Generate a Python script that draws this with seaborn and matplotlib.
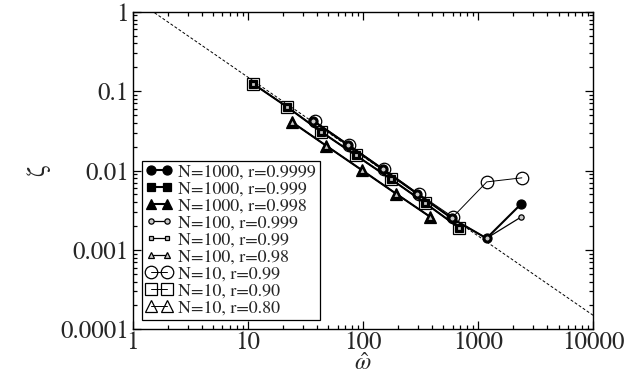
import numpy as np
import pandas as pd
import seaborn as sns
import matplotlib
matplotlib.use('Agg')
import matplotlib.pyplot as plt
from matplotlib.ticker import LogLocator, FuncFormatter, NullFormatter

# values
omega_sq = [11, 22, 43, 87, 175, 346, 684]
zeta_sq = [0.125, 0.063, 0.031, 0.0155, 0.0078, 0.0039, 0.0019]

omega_circ = [37, 74, 148, 296, 592, 1184, 2368]
zeta_n1000_r9999 = [0.042, 0.021, 0.0104, 0.0051, 0.0025, 0.0014, 0.0038]
zeta_n100_r999 = [0.042, 0.021, 0.0104, 0.0051, 0.0025, 0.0014, 0.0026]
omega_circ_n10 = [38, 76, 152, 304, 604, 1190, 2400]
zeta_n10_r99 = [0.042, 0.021, 0.0104, 0.0051, 0.0026, 0.0072, 0.0081]

omega_tri = [24, 48, 97, 194, 385]
zeta_tri = [0.041, 0.0205, 0.0102, 0.0051, 0.0026]

guide_omega = [1, 10000]
guide_zeta = [1.5, 0.00015]

sns.set_style('ticks')
plt.rcParams['font.family'] = ['STIXGeneral', 'DejaVu Serif']
plt.rcParams['mathtext.fontset'] = 'stix'
plt.rcParams['xtick.direction'] = 'in'
plt.rcParams['ytick.direction'] = 'in'

fig = plt.figure(figsize=(6.27, 3.82), dpi=100)
ax = fig.add_axes([0.212, 0.138, 0.734, 0.831])

ax.plot(guide_omega, guide_zeta, ls=(0, (3, 2)), color='black', lw=0.7, zorder=1)

# (label, x, y, marker, size, face, lw, zorder)
series = [
    ('N=1000, r=0.9999', omega_circ, zeta_n1000_r9999, 'o', 6.5, 'black', 1.5, 6),
    ('N=1000, r=0.999', omega_sq, zeta_sq, 's', 6.0, 'black', 1.5, 6),
    ('N=1000, r=0.998', omega_tri, zeta_tri, '^', 6.5, 'black', 1.5, 6),
    ('N=100, r=0.999', omega_circ, zeta_n100_r999, 'o', 3.8, '#c8c8c8', 0.9, 7),
    ('N=100, r=0.99', omega_sq, zeta_sq, 's', 3.5, '#c8c8c8', 0.9, 7),
    ('N=100, r=0.98', omega_tri, zeta_tri, '^', 3.8, '#c8c8c8', 0.9, 7),
    ('N=10, r=0.99', omega_circ_n10, zeta_n10_r99, 'o', 9.0, 'none', 0.7, 4),
    ('N=10, r=0.90', omega_sq, zeta_sq, 's', 8.0, 'none', 0.7, 4),
    ('N=10, r=0.80', omega_tri, zeta_tri, '^', 9.0, 'none', 0.7, 4),
]

for label, xs, ys, mk, ms, face, lw, z in series:
    df = pd.DataFrame({'omega': xs, 'zeta': ys})
    sns.lineplot(data=df, x='omega', y='zeta', ax=ax, label=label,
                 color='black', lw=lw, marker=mk, markersize=ms,
                 markerfacecolor=face, markeredgecolor='black',
                 markeredgewidth=0.9, zorder=z, sort=False)

ax.set_xscale('log')
ax.set_yscale('log')
ax.set_xlim(1, 10000)
ax.set_ylim(0.0001, 1)

fmt = FuncFormatter(lambda v, p: '%g' % v)
ax.xaxis.set_major_locator(LogLocator(base=10, numticks=10))
ax.yaxis.set_major_locator(LogLocator(base=10, numticks=10))
ax.xaxis.set_minor_locator(LogLocator(base=10, subs=np.arange(2, 10), numticks=20))
ax.yaxis.set_minor_locator(LogLocator(base=10, subs=np.arange(2, 10), numticks=20))
ax.xaxis.set_major_formatter(fmt)
ax.yaxis.set_major_formatter(fmt)
ax.xaxis.set_minor_formatter(NullFormatter())
ax.yaxis.set_minor_formatter(NullFormatter())

ax.tick_params(which='both', top=True, right=True, direction='in', color='black', width=0.9)
ax.tick_params(which='major', length=6, labelsize=18, pad=3)
ax.tick_params(which='minor', length=3)
ax.tick_params(axis='x', which='major', pad=1)

for s in ax.spines.values():
    s.set_color('black')
    s.set_linewidth(1.0)

ax.set_xlabel(r'$\hat{\omega}$', fontsize=17, labelpad=-1)
ax.set_ylabel('ζ', fontsize=19, labelpad=7)

leg = ax.legend(loc='lower left', bbox_to_anchor=(0.02, 0.028), fontsize=13,
                frameon=True, fancybox=False, edgecolor='black', framealpha=1,
                handlelength=1.5, handletextpad=0.3, labelspacing=0.02,
                borderpad=0.2, borderaxespad=0, numpoints=2)
leg.get_frame().set_linewidth(0.9)

fig.savefig('out.png', dpi=100)
